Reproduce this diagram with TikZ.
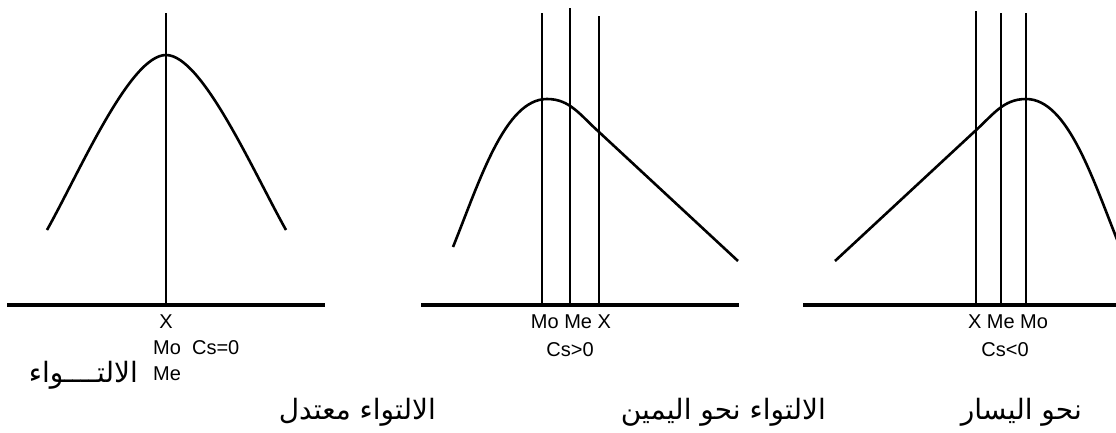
\documentclass[tikz,border=0pt]{standalone}
\usepackage{fontspec}
\setmainfont{Liberation Sans}
\newfontfamily\arabicfont[Script=Arabic]{DejaVu Sans}
\TeXXeTstate=1
\usetikzlibrary{positioning}

\begin{document}
\begin{tikzpicture}[
  x=1pt,y=-1pt,
  axis/.style={line width=3.5pt},
  meanline/.style={line width=2.8pt},
  curve/.style={line width=2.6pt,line join=round},
  lbl/.style={font=\fontsize{20}{24}\selectfont,inner sep=0pt},
  ar/.style={font=\fontsize{28}{32}\selectfont\arabicfont,inner sep=0pt,anchor=east}
]
\useasboundingbox (0,0) rectangle (1116,432);
\draw[axis] (7,305) -- (325,305);
\draw[axis] (421,305) -- (739,305);
\draw[axis] (803,305) -- (1116,305);
\draw[meanline] (166,13) -- (166,305);
\foreach \x/\top in {542/13,570/8,599/16} {\draw[meanline] (\x,\top) -- (\x,305);}
\foreach \x/\top in {976/11,1001/13,1026/13} {\draw[meanline] (\x,\top) -- (\x,305);}
\draw[curve] (47,230) .. controls (80,171) and (130,55) .. (166,55)
  .. controls (202,55) and (253,171) .. (286,230);
\draw[curve] (453,247) .. controls (480,180) and (505,99) .. (547,99)
  .. controls (570,99) and (580,115) .. (599,132) -- (738,261);
\draw[curve] (835,261) -- (974,132) .. controls (993,115) and (1003,99) .. (1026,99)
  .. controls (1068,99) and (1093,180) .. (1120,247);
\node[lbl] (x1) at (166,322) {X};
\node[lbl,anchor=west] (mo1) at (153,348) {Mo\ \ Cs=0};
\node[lbl,anchor=west] (me1) at (153,374) {Me};
\node[lbl] (m2) at (571,322) {Mo Me X};
\node[lbl] (cs2) at (570,350) {Cs>0};
\node[lbl] (m3) at (1008,322) {X Me Mo};
\node[lbl] (cs3) at (1005,350) {Cs<0};
\node[ar] (a1) at (138,375) {\beginR الالتــــواء\endR};
\node[ar] (a2) at (436,412) {\beginR الالتواء معتدل\endR};
\node[ar] (a3) at (826,412) {\beginR الالتواء نحو اليمين\endR};
\node[ar] (a4) at (1082,412) {\beginR نحو اليسار\endR};
\end{tikzpicture}
\end{document}
